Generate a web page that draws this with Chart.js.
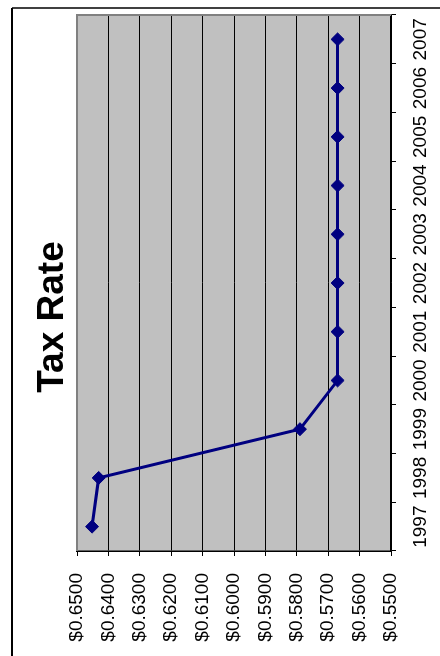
<!DOCTYPE html>
<html>
<head>
<meta charset="utf-8">
<title>Tax Rate</title>
<script src="https://cdn.jsdelivr.net/npm/chart.js@4/dist/chart.umd.min.js"></script>
<style>
  html, body { margin: 0; padding: 0; background: #fff; overflow: hidden; }
  body { width: 440px; height: 656px; position: relative; }
  /* The chart is laid out landscape, then turned a quarter turn counter-clockwise */
  #wrap {
    position: absolute; left: 0; top: 656px;
    width: 656px; height: 440px;
    transform-origin: 0 0;
    transform: rotate(-90deg);
  }
  canvas { display: block; }
</style>
</head>
<body>
<div id="wrap"><canvas id="chart" width="656" height="440"></canvas></div>
<script>
// Fiscal years and the tax rate levied in each
const years = ['1997', '1998', '1999', '2000', '2001', '2002', '2003', '2004', '2005', '2006', '2007'];
const taxRate = [0.6452, 0.6431, 0.5790, 0.5670, 0.5670, 0.5670, 0.5670, 0.5670, 0.5670, 0.5670, 0.5670];
const rateTicks = [0.55, 0.56, 0.57, 0.58, 0.59, 0.60, 0.61, 0.62, 0.63, 0.64, 0.65];
const chartTitle = 'Tax Rate';

const FONT = '"Liberation Sans", Arial, sans-serif';

// Grey plot area, outer chart frame and the title
const framePlugin = {
  id: 'frame',
  beforeDraw(chart) {
    const { ctx, chartArea: a } = chart;
    ctx.save();
    ctx.fillStyle = '#C0C0C0';
    ctx.fillRect(a.left, a.top, a.right - a.left, a.bottom - a.top);
    ctx.strokeStyle = '#000';
    ctx.lineWidth = 2;
    ctx.beginPath();
    ctx.moveTo(0, 12);
    ctx.lineTo(648, 12);
    ctx.stroke();
    ctx.lineWidth = 1.5;
    ctx.beginPath();
    ctx.moveTo(648, 12);
    ctx.lineTo(648, 440);
    ctx.stroke();
    ctx.fillStyle = '#000';
    ctx.font = 'bold 37px ' + FONT;
    ctx.textAlign = 'center';
    ctx.textBaseline = 'alphabetic';
    ctx.fillText(chartTitle, 339, 62.5);
    ctx.restore();
  },
  beforeDatasetsDraw(chart) {
    const { ctx, chartArea: a } = chart;
    ctx.save();
    ctx.strokeStyle = '#808080';
    ctx.lineWidth = 2;
    ctx.beginPath();
    ctx.moveTo(a.left, a.top);
    ctx.lineTo(a.right, a.top);
    ctx.lineTo(a.right, a.bottom);
    ctx.stroke();
    ctx.restore();
  }
};

new Chart(document.getElementById('chart'), {
  type: 'line',
  data: {
    labels: years,
    datasets: [{
      data: taxRate,
      borderColor: '#000080',
      backgroundColor: '#000080',
      borderWidth: 3,
      pointStyle: 'rectRot',
      pointRadius: 6.5,
      pointBorderWidth: 1,
      pointBackgroundColor: '#000080',
      pointBorderColor: '#000080',
      tension: 0,
      fill: false
    }]
  },
  options: {
    responsive: false,
    animation: false,
    devicePixelRatio: 1,
    layout: { padding: { top: 77, right: 15, left: 0, bottom: 0 } },
    plugins: {
      legend: { display: false },
      title: { display: false },
      tooltip: { enabled: false }
    },
    scales: {
      x: {
        type: 'category',
        offset: true,
        afterFit(scale) { scale.height = 49; },
        grid: {
          offset: true,
          drawOnChartArea: false,
          drawTicks: true,
          tickLength: 5,
          color: '#000',
          lineWidth: 1
        },
        border: { display: true, color: '#000', width: 1.5 },
        ticks: {
          color: '#000',
          font: { family: FONT, size: 19 },
          padding: 13,
          maxRotation: 0,
          minRotation: 0,
          autoSkip: false
        }
      },
      y: {
        type: 'linear',
        min: 0.55,
        max: 0.65,
        afterFit(scale) { scale.width = 105; },
        afterBuildTicks(scale) { scale.ticks = rateTicks.map(v => ({ value: v })); },
        grid: {
          drawOnChartArea: true,
          drawTicks: true,
          tickLength: 5,
          color: '#000',
          lineWidth: 1
        },
        border: { display: true, color: '#000', width: 1.5 },
        ticks: {
          color: '#000',
          font: { family: FONT, size: 19 },
          padding: 17,
          callback: v => '$' + Number(v).toFixed(4)
        }
      }
    }
  },
  plugins: [framePlugin]
});
</script>
</body>
</html>
